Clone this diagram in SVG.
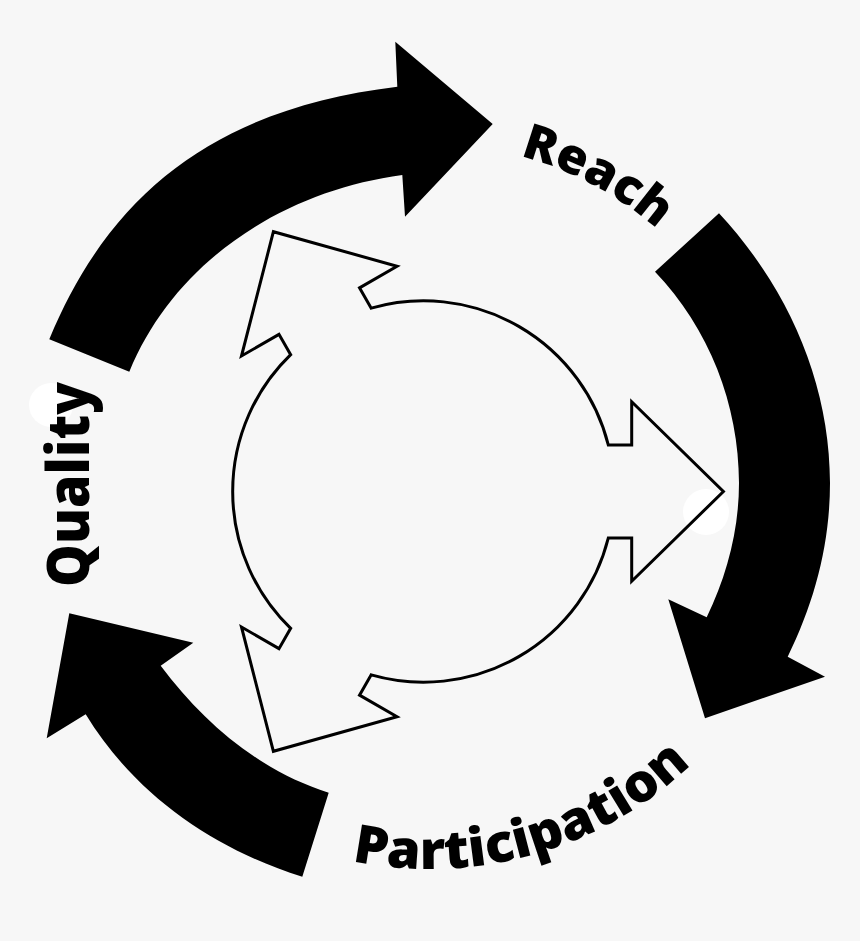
<svg xmlns="http://www.w3.org/2000/svg" width="860" height="941" viewBox="0 0 860 941">
<style>
.big{fill:#000;stroke:none}
.inner{fill:none;stroke:#000;stroke-width:3;stroke-linejoin:miter}
.lbl{font-family:"Open Sans",Lato,sans-serif;font-weight:800;fill:#000;font-variant-ligatures:none}
.blob{fill:#fff}
</style>
<defs>
<path id="pReach" d="M 519.8 155.9 A 346 346 0 0 1 770.7 429.9"/>
<path id="pPart" d="M 351.9 860.9 A 379 379 0 0 0 786.1 619.6"/>
</defs>
<rect width="860" height="941" fill="#f7f7f7"/>
<circle class="blob" cx="51" cy="405" r="22"/>
<circle class="blob" cx="706" cy="512" r="23"/>
<g id="connectors">
<path id="arrow-top" class="big" d="M 49.3 339.3 C 114 182 229 107 397.3 86.7 L 395.3 41.7 L 492.7 124 L 405 216.7 L 402.3 175 C 283 191 175 261 129.3 371.7 Z"/>
<path id="arrow-right" class="big" d="M 719 213.3 C 787.5 287 830 382 830 483 C 830 544 814.6 602 787.7 656.7 L 825 676.7 L 705 718.3 L 668.3 599.3 L 706.7 617.3 C 727 575.6 739 529.4 739 483 C 739 404.6 709 328 655 271.7 Z"/>
<path id="arrow-left" class="big" d="M 328.7 792.7 L 302.3 876.7 C 213 849 134.3 794 85.7 714.3 L 46.7 738.3 L 69.3 613.3 L 193.3 642.7 L 160.7 665.7 C 203.9 723.3 260 771 328.7 792.7 Z"/>
</g>
<g id="center-cycle">
<path class="inner" d="M 608.3 445 L 631.7 445 L 631.7 401.7 L 723.4 491.5 L 631.7 581.3 L 631.7 538 L 608.3 538 A 190.5 190.5 0 0 1 371.22 674.87 L 359.52 695.14 L 397.02 716.79 L 273.4 751.3 L 241.48 626.99 L 278.98 648.64 L 290.68 628.37 A 190.5 190.5 0 0 1 290.68 354.63 L 278.98 334.36 L 241.48 356.01 L 273.4 231.7 L 397.02 266.21 L 359.52 287.86 L 371.22 308.13 A 190.5 190.5 0 0 1 608.3 445 Z"/>
</g>
<g id="reach"><text class="lbl" font-size="49"><textPath href="#pReach" textLength="157" lengthAdjust="spacingAndGlyphs">Reach</textPath></text></g>
<g id="participation"><text class="lbl" font-size="53"><textPath href="#pPart" textLength="367" lengthAdjust="spacingAndGlyphs">Participation</textPath></text></g>
<g id="quality"><text class="lbl" font-size="58" transform="translate(89,587) rotate(-90)" textLength="205" lengthAdjust="spacingAndGlyphs">Quality</text></g>
</svg>
